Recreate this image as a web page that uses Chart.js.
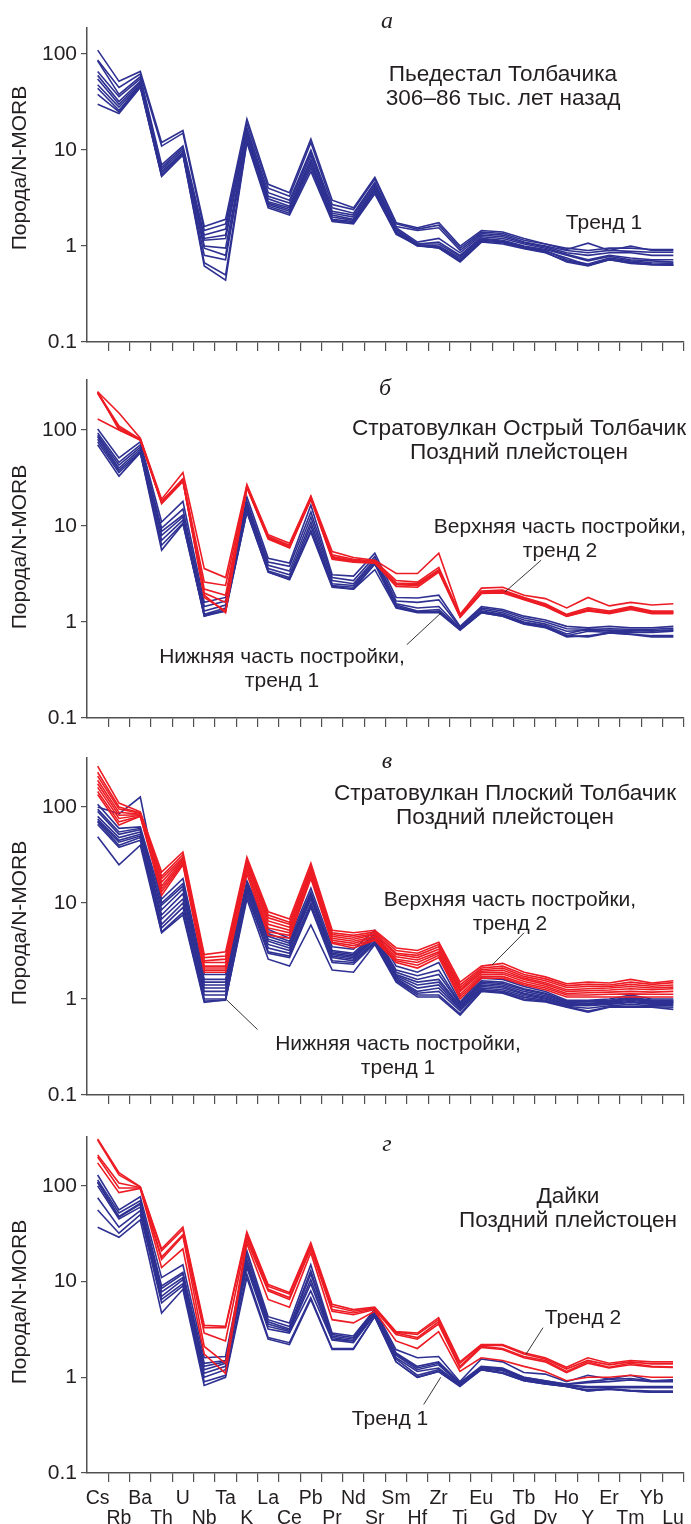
<!DOCTYPE html>
<html lang="ru">
<head>
<meta charset="utf-8">
<title>Толбачик – спайдер-диаграммы</title>
<script src="https://cdn.jsdelivr.net/npm/chart.js@4.4.1/dist/chart.umd.min.js"></script>
<style>
  html, body { margin: 0; padding: 0; background: #fff; }
  #figure { position: relative; width: 691px; height: 1524px; overflow: hidden;
            font-family: "Liberation Sans", Arial, sans-serif; color: #231f20; }
  #figure canvas { position: absolute; left: 0; }
  .note { position: absolute; transform: translate(-50%, -50%); text-align: center;
          white-space: nowrap; font-size: 21px; line-height: 24px; }
  .title { font-size: 22.6px; line-height: 23.5px; }
  .letter { position: absolute; transform: translate(-50%, -50%);
            font-family: "Liberation Serif", "Times New Roman", serif; font-style: italic; font-size: 24px; }
  .ylabel { position: absolute; transform: translate(-50%, -50%) rotate(-90deg);
            font-size: 21px; white-space: nowrap; }
</style>
</head>
<body>
<div id="figure">
  <canvas id="chart-a" width="691" height="362" style="top:0px"></canvas>
  <canvas id="chart-b" width="691" height="378" style="top:362px"></canvas>
  <canvas id="chart-c" width="691" height="378" style="top:740px"></canvas>
  <canvas id="chart-d" width="691" height="406" style="top:1118px"></canvas>

  <div class="letter" style="left:387px; top:20px">а</div>
  <div class="letter" style="left:385px; top:387px">б</div>
  <div class="letter" style="left:387px; top:760px">в</div>
  <div class="letter" style="left:387px; top:1143px">г</div>

  <div class="ylabel" style="left:19px; top:168px">Порода/N-MORB</div>
  <div class="ylabel" style="left:19px; top:547px">Порода/N-MORB</div>
  <div class="ylabel" style="left:19px; top:923px">Порода/N-MORB</div>
  <div class="ylabel" style="left:19px; top:1302px">Порода/N-MORB</div>

  <div class="note title" style="left:503px; top:85px">Пьедестал Толбачика<br>306–86 тыс. лет назад</div>
  <div class="note" style="left:604px; top:222px">Тренд 1</div>

  <div class="note title" style="left:519px; top:439px">Стратовулкан Острый Толбачик<br>Поздний плейстоцен</div>
  <div class="note" style="left:560px; top:538px">Верхняя часть постройки,<br>тренд 2</div>
  <div class="note" style="left:282px; top:668px">Нижняя часть постройки,<br>тренд 1</div>

  <div class="note title" style="left:505px; top:804px">Стратовулкан Плоский Толбачик<br>Поздний плейстоцен</div>
  <div class="note" style="left:510px; top:911px">Верхняя часть постройки,<br>тренд 2</div>
  <div class="note" style="left:398px; top:1055px">Нижняя часть постройки,<br>тренд 1</div>

  <div class="note title" style="left:568px; top:1207px">Дайки<br>Поздний плейстоцен</div>
  <div class="note" style="left:583px; top:1317px">Тренд 2</div>
  <div class="note" style="left:390px; top:1418px">Тренд 1</div>
</div>

<script>
// Elements of the spider diagram (normalised to N-MORB)
const elements = ['Cs', 'Rb', 'Ba', 'Th', 'U', 'Nb', 'Ta', 'K', 'La', 'Ce', 'Pb', 'Pr', 'Nd', 'Sr',
                  'Sm', 'Hf', 'Zr', 'Ti', 'Eu', 'Gd', 'Tb', 'Dy', 'Ho', 'Y', 'Er', 'Tm', 'Yb', 'Lu'];
const yTicks = [0.1, 1, 10, 100];

// а – Пьедестал Толбачика, тренд 1
const pedestalTrend1 = [
    [110, 52, 66, 12, 16, 1.6, 1.9, 21, 4.4, 3.6, 13, 3.0, 2.5, 5.2, 1.75, 1.55, 1.75, 1.0, 1.45, 1.4, 1.2, 1.05, 0.95, 0.9, 0.95, 0.95, 0.92, 0.92],
    [87, 45, 62, 11, 15, 1.45, 1.7, 19, 4.0, 3.3, 12, 2.7, 2.4, 5.0, 1.7, 1.5, 1.65, 0.95, 1.4, 1.35, 1.15, 1.05, 0.92, 1.07, 0.9, 1.0, 0.9, 0.9],
    [85, 38, 58, 7.0, 11, 1.3, 1.5, 17, 3.6, 3.0, 10, 2.5, 2.2, 4.6, 1.6, 1.45, 1.55, 0.9, 1.35, 1.3, 1.1, 1.0, 0.9, 0.85, 0.9, 0.88, 0.86, 0.86],
    [66, 36, 55, 6.6, 10.5, 1.2, 1.3, 16, 3.3, 2.8, 9.5, 2.3, 2.1, 4.4, 1.55, 1.1, 1.2, 0.85, 1.3, 1.25, 1.08, 0.98, 0.85, 0.8, 0.85, 0.85, 0.8, 0.8],
    [60, 32, 52, 6.3, 10, 1.15, 1.2, 15, 3.1, 2.6, 8.8, 2.2, 2.0, 4.2, 1.5, 1.05, 1.1, 0.8, 1.25, 1.2, 1.05, 0.95, 0.82, 0.72, 0.8, 0.75, 0.72, 0.72],
    [55, 30, 50, 6.0, 9.5, 1.0, 0.95, 14, 2.9, 2.5, 8.0, 2.1, 1.9, 4.0, 1.45, 1.05, 1.05, 0.78, 1.2, 1.15, 1.0, 0.92, 0.8, 0.7, 0.78, 0.72, 0.7, 0.68],
    [48, 28, 48, 5.8, 9.2, 0.95, 0.8, 13.5, 2.8, 2.4, 7.5, 2.0, 1.85, 3.9, 1.4, 1.03, 1.0, 0.75, 1.18, 1.12, 0.98, 0.9, 0.72, 0.65, 0.75, 0.7, 0.67, 0.66],
    [44, 26, 47, 5.5, 9.0, 0.8, 0.72, 13, 2.7, 2.3, 7.0, 1.9, 1.8, 3.8, 1.38, 1.0, 0.98, 0.72, 1.15, 1.1, 0.96, 0.88, 0.75, 0.63, 0.73, 0.68, 0.65, 0.64],
    [38, 25, 46, 5.3, 8.9, 0.67, 0.5, 12.5, 2.6, 2.2, 6.5, 1.85, 1.75, 3.6, 1.35, 1.0, 0.96, 0.7, 1.12, 1.08, 0.95, 0.86, 0.68, 0.62, 0.72, 0.67, 0.64, 0.63],
    [30, 24, 45, 5.4, 9.0, 0.62, 0.44, 12, 2.5, 2.1, 6.0, 1.8, 1.7, 3.5, 1.32, 1.02, 0.95, 0.68, 1.1, 1.05, 0.94, 0.85, 0.7, 0.63, 0.72, 0.66, 0.64, 0.63]
];

// б – Острый Толбачик: нижняя (тренд 1) и верхняя (тренд 2) части постройки
const ostryLower = [
    [102, 51, 75, 11, 18, 1.6, 1.8, 20, 4.6, 4.1, 16.5, 3.1, 3.0, 5.2, 1.8, 1.78, 1.9, 0.9, 1.45, 1.35, 1.15, 1.05, 0.9, 0.87, 0.9, 0.87, 0.87, 0.9],
    [93, 46, 70, 9.5, 15, 1.45, 1.65, 18, 4.2, 3.8, 14, 2.9, 2.7, 4.8, 1.65, 1.6, 1.7, 0.88, 1.4, 1.3, 1.1, 1.0, 0.85, 0.84, 0.85, 0.84, 0.84, 0.86],
    [88, 43, 66, 8.8, 13, 1.3, 1.5, 17, 3.9, 3.4, 12.4, 2.7, 2.5, 4.5, 1.55, 1.4, 1.45, 0.86, 1.35, 1.25, 1.05, 0.95, 0.8, 0.82, 0.82, 0.82, 0.8, 0.83],
    [85, 40, 63, 8.0, 12.4, 1.2, 1.4, 16, 3.6, 3.1, 11, 2.5, 2.4, 4.3, 1.5, 1.3, 1.35, 0.85, 1.3, 1.2, 1.0, 0.92, 0.75, 0.85, 0.8, 0.8, 0.82, 0.82],
    [80, 38, 60, 7.1, 11.5, 1.15, 1.35, 15, 3.4, 2.9, 10, 2.4, 2.3, 4.1, 1.45, 1.27, 1.3, 0.84, 1.28, 1.18, 0.98, 0.9, 0.72, 0.8, 0.78, 0.78, 0.78, 0.8],
    [75, 36, 58, 6.3, 10.7, 1.15, 1.3, 14, 3.3, 2.8, 9.0, 2.35, 2.2, 4.0, 1.42, 1.27, 1.27, 0.83, 1.25, 1.15, 0.96, 0.88, 0.7, 0.72, 0.77, 0.75, 0.72, 0.72],
    [70, 33, 58, 5.6, 10.5, 1.2, 1.3, 14, 3.3, 2.75, 8.6, 2.3, 2.2, 3.5, 1.4, 1.25, 1.25, 0.82, 1.25, 1.15, 0.95, 0.87, 0.72, 0.7, 0.77, 0.74, 0.7, 0.7]
];
const ostryUpper = [
    [250, 150, 82, 19, 36, 3.6, 2.9, 27, 8.1, 6.6, 20.5, 5.4, 4.7, 4.4, 3.2, 3.2, 5.2, 1.2, 2.25, 2.3, 1.9, 1.75, 1.4, 1.8, 1.47, 1.6, 1.5, 1.55],
    [245, 110, 80, 18, 31, 2.6, 2.4, 26, 7.8, 6.3, 20, 5.0, 4.5, 4.3, 2.7, 2.6, 3.7, 1.18, 2.1, 2.15, 1.8, 1.55, 1.2, 1.4, 1.3, 1.45, 1.3, 1.3],
    [240, 105, 79, 17.5, 30, 2.2, 1.9, 25.5, 7.6, 6.1, 19.5, 4.8, 4.4, 4.2, 2.55, 2.5, 3.5, 1.15, 2.05, 2.1, 1.75, 1.5, 1.18, 1.35, 1.27, 1.42, 1.28, 1.27],
    [130, 100, 80, 17, 29, 2.0, 1.6, 25, 7.4, 6.0, 19, 4.6, 4.3, 4.15, 2.45, 2.4, 3.4, 1.13, 2.0, 2.05, 1.72, 1.48, 1.16, 1.33, 1.25, 1.38, 1.25, 1.25],
    [250, 100, 78, 17.5, 29.5, 1.8, 1.3, 25, 7.3, 5.9, 19, 4.5, 4.2, 4.1, 2.35, 2.3, 3.3, 1.12, 1.98, 2.0, 1.7, 1.45, 1.14, 1.3, 1.22, 1.35, 1.22, 1.22],
    [245, 105, 80, 18, 30, 1.9, 1.25, 26, 7.5, 6.0, 20, 4.7, 4.3, 4.2, 2.5, 2.45, 3.45, 1.16, 2.02, 2.08, 1.73, 1.47, 1.15, 1.32, 1.24, 1.4, 1.26, 1.26]
];

// в – Плоский Толбачик
const ploskyLower = [
    [107, 60, 62, 11, 18, 1.8, 1.8, 17, 5.3, 4.3, 14.3, 3.5, 3.3, 5.2, 2.2, 1.9, 2.4, 0.93, 1.65, 1.6, 1.35, 1.2, 0.97, 0.97, 1.0, 1.1, 1.0, 1.0],
    [100, 85, 127, 10, 16, 1.6, 1.6, 16, 4.8, 4.0, 13, 3.2, 3.0, 4.8, 2.0, 1.75, 2.0, 0.9, 1.55, 1.5, 1.28, 1.15, 0.95, 0.95, 0.97, 1.05, 0.97, 0.97],
    [95, 55, 60, 9.5, 15, 1.5, 1.5, 16, 4.5, 3.8, 12.5, 3.1, 2.9, 4.6, 1.9, 1.6, 1.8, 0.88, 1.5, 1.45, 1.25, 1.12, 0.93, 0.93, 0.95, 1.02, 0.95, 0.95],
    [90, 52, 58, 8.5, 14, 1.4, 1.4, 15, 4.2, 3.6, 12, 3.0, 2.8, 4.4, 1.8, 1.5, 1.6, 0.85, 1.45, 1.4, 1.2, 1.08, 0.92, 0.9, 0.93, 1.0, 0.93, 0.93],
    [80, 48, 55, 7.5, 12.5, 1.3, 1.3, 15, 4.0, 3.4, 11.5, 2.9, 2.7, 4.3, 1.75, 1.4, 1.5, 0.83, 1.4, 1.35, 1.15, 1.05, 0.9, 0.88, 0.92, 0.97, 0.92, 0.92],
    [75, 45, 52, 6.8, 11, 1.2, 1.2, 14, 3.7, 3.2, 11, 2.8, 2.6, 4.2, 1.7, 1.3, 1.4, 0.8, 1.35, 1.3, 1.12, 1.02, 0.88, 0.87, 0.9, 0.94, 0.9, 0.9],
    [72, 43, 50, 6.0, 10, 1.1, 1.1, 14, 3.4, 3.0, 10, 2.7, 2.5, 4.0, 1.65, 1.2, 1.3, 0.78, 1.3, 1.25, 1.08, 1.0, 0.86, 0.85, 0.88, 0.92, 0.88, 0.88],
    [70, 40, 48, 5.5, 9.0, 1.0, 1.0, 13, 3.1, 2.8, 9.5, 2.5, 2.4, 3.9, 1.6, 1.15, 1.2, 0.75, 1.25, 1.2, 1.04, 0.97, 0.84, 0.8, 0.85, 0.88, 0.85, 0.85],
    [66, 38, 45, 5.0, 8.0, 0.95, 0.97, 12, 3.0, 2.7, 9.0, 2.4, 2.3, 3.8, 1.55, 1.1, 1.1, 0.7, 1.22, 1.17, 1.0, 0.95, 0.83, 0.75, 0.83, 0.84, 0.83, 0.82],
    [49, 25, 40, 4.9, 7.5, 0.92, 0.98, 11, 2.6, 2.2, 5.9, 2.0, 1.9, 3.7, 1.5, 1.05, 1.05, 0.68, 1.2, 1.15, 0.97, 0.93, 0.82, 0.73, 0.82, 0.82, 0.82, 0.78]
];
const ploskyUpper = [
    [267, 110, 89, 21, 34, 2.9, 3.1, 30, 8.1, 6.8, 26, 5.2, 4.9, 5.2, 3.4, 3.2, 3.9, 1.5, 2.2, 2.35, 1.9, 1.7, 1.44, 1.5, 1.47, 1.6, 1.47, 1.55],
    [230, 100, 87, 19, 32, 2.7, 2.8, 28, 7.5, 6.3, 24, 4.9, 4.6, 5.0, 3.2, 3.0, 3.7, 1.4, 2.1, 2.2, 1.8, 1.62, 1.38, 1.42, 1.4, 1.5, 1.42, 1.48],
    [210, 95, 86, 18, 30, 2.5, 2.6, 27, 7.0, 6.0, 23, 4.7, 4.4, 4.8, 3.0, 2.85, 3.5, 1.32, 2.02, 2.1, 1.72, 1.55, 1.32, 1.35, 1.35, 1.42, 1.36, 1.4],
    [190, 88, 84, 16.5, 29, 2.4, 2.4, 26, 6.5, 5.6, 22, 4.5, 4.2, 4.7, 2.9, 2.7, 3.3, 1.25, 1.95, 2.0, 1.65, 1.48, 1.25, 1.28, 1.3, 1.35, 1.3, 1.33],
    [175, 82, 83, 15, 28, 2.2, 2.2, 25, 6.0, 5.2, 21, 4.3, 4.0, 4.5, 2.75, 2.55, 3.1, 1.2, 1.88, 1.9, 1.6, 1.42, 1.2, 1.22, 1.24, 1.28, 1.25, 1.28],
    [160, 76, 82, 14, 27, 2.1, 2.1, 23, 5.5, 4.9, 20, 4.1, 3.8, 4.4, 2.6, 2.4, 3.0, 1.12, 1.8, 1.82, 1.52, 1.36, 1.14, 1.16, 1.18, 1.2, 1.18, 1.2],
    [145, 70, 80, 13, 26, 2.0, 2.0, 22, 5.0, 4.6, 19, 3.9, 3.6, 4.2, 2.5, 2.25, 2.85, 1.06, 1.72, 1.72, 1.45, 1.3, 1.1, 1.1, 1.12, 1.13, 1.12, 1.12],
    [135, 65, 80, 12, 25, 1.9, 1.9, 20, 4.6, 4.3, 18, 3.8, 3.4, 4.1, 2.4, 2.1, 2.7, 1.0, 1.65, 1.65, 1.4, 1.25, 1.05, 1.05, 1.05, 1.05, 1.05, 1.05]
];

// г – Дайки
const dykesTrend1 = [
    [130, 56, 77, 11, 15, 1.6, 1.65, 21, 4.3, 3.7, 15, 2.9, 2.7, 5.1, 1.95, 1.6, 1.65, 0.9, 1.55, 1.45, 1.12, 1.08, 0.9, 1.05, 0.96, 1.05, 0.92, 0.94],
    [115, 52, 70, 9.0, 12.5, 1.4, 1.5, 19, 4.0, 3.4, 13, 2.8, 2.6, 5.0, 1.8, 1.3, 1.45, 0.88, 1.3, 1.25, 1.0, 0.92, 0.85, 0.9, 0.95, 0.97, 0.92, 0.92],
    [110, 48, 66, 8.5, 12, 1.3, 1.45, 17, 3.8, 3.2, 12, 2.7, 2.5, 4.9, 1.75, 1.25, 1.4, 0.87, 1.28, 1.22, 1.0, 0.92, 0.84, 0.88, 0.9, 0.94, 0.9, 0.9],
    [108, 47, 64, 7.8, 11, 1.2, 1.4, 16, 3.6, 3.1, 10.5, 2.6, 2.4, 4.7, 1.7, 1.2, 1.35, 0.86, 1.25, 1.2, 0.98, 0.9, 0.83, 0.8, 0.8, 0.8, 0.8, 0.8],
    [100, 45, 60, 7.0, 10.5, 1.1, 1.3, 15, 3.4, 3.0, 9.5, 2.5, 2.4, 4.6, 1.6, 1.15, 1.25, 0.85, 1.22, 1.17, 0.96, 0.88, 0.82, 0.78, 0.78, 0.78, 0.78, 0.78],
    [75, 37, 55, 6.5, 9.5, 1.0, 1.2, 14, 3.2, 2.9, 8.0, 2.45, 2.3, 4.5, 1.55, 1.05, 1.2, 0.83, 1.2, 1.12, 0.94, 0.86, 0.8, 0.74, 0.76, 0.73, 0.72, 0.72],
    [56, 32, 50, 6.0, 9.0, 0.9, 1.05, 12, 2.6, 2.3, 6.8, 2.0, 2.0, 4.3, 1.45, 1.0, 1.15, 0.82, 1.2, 1.1, 0.92, 0.85, 0.8, 0.72, 0.75, 0.72, 0.7, 0.7],
    [37, 29, 44, 4.7, 8.3, 0.82, 1.0, 11, 2.5, 2.2, 6.5, 1.95, 1.95, 4.3, 1.45, 1.0, 1.15, 0.8, 1.2, 1.1, 0.92, 0.85, 0.8, 0.72, 0.75, 0.72, 0.7, 0.7]
];
const dykesTrend2 = [
    [309, 137, 98, 22, 37, 3.5, 3.4, 33, 9.3, 7.7, 25.5, 5.8, 5.1, 5.4, 3.0, 2.9, 4.2, 1.45, 2.2, 2.2, 1.8, 1.6, 1.27, 1.6, 1.4, 1.5, 1.45, 1.45],
    [300, 130, 97, 21, 35, 3.3, 3.3, 31, 8.9, 7.4, 24, 5.5, 4.9, 5.3, 2.95, 2.8, 4.0, 1.4, 2.15, 2.15, 1.75, 1.55, 1.22, 1.5, 1.35, 1.45, 1.38, 1.38],
    [210, 107, 96, 18, 31, 2.9, 2.4, 29, 8.3, 6.8, 23, 5.1, 4.7, 5.2, 2.9, 2.6, 3.8, 1.3, 2.1, 2.0, 1.65, 1.5, 1.15, 1.45, 1.27, 1.4, 1.3, 1.28],
    [200, 95, 95, 17, 30, 2.1, 1.4, 27, 8.0, 6.5, 22, 4.9, 4.5, 5.1, 2.8, 2.5, 3.6, 1.25, 2.05, 1.95, 1.6, 1.45, 1.12, 1.4, 1.25, 1.35, 1.28, 1.27],
    [174, 85, 94, 14, 22, 1.75, 1.1, 25, 6.5, 5.4, 20, 4.0, 3.7, 4.9, 2.4, 2.0, 3.0, 1.15, 1.6, 1.5, 1.3, 1.15, 0.92, 1.0, 1.0, 1.05, 1.0, 1.0]
];

// Leader lines from the notes to the trends: [element index, value, element index, value]
const ostryLeaders = [[20.8, 4.4, 19.1, 2.05], [14.5, 0.58, 16.1, 1.24]];
const ploskyLeaders = [[20.0, 4.9, 18.5, 2.26], [6.05, 0.98, 7.5, 0.48]];
const dykesLeaders = [[20.9, 3.3, 20.1, 1.74], [15.3, 0.52, 16.1, 1.0]];

const BLUE = '#2e3192';
const RED = '#ed1c24';
const TEXT = '#231f20';
const AXIS = '#505050';
const FONT = '"Liberation Sans", Arial, sans-serif';

const leaderPlugin = {
    id: 'leaders',
    afterDatasetsDraw(chart, args, opts) {
        const { ctx, scales: { x, y } } = chart;
        ctx.save();
        ctx.strokeStyle = TEXT;
        ctx.lineWidth = 0.9;
        (opts.lines || []).forEach(([i1, v1, i2, v2]) => {
            ctx.beginPath();
            ctx.moveTo(x.getPixelForValue(i1), y.getPixelForValue(v1));
            ctx.lineTo(x.getPixelForValue(i2), y.getPixelForValue(v2));
            ctx.stroke();
        });
        ctx.restore();
    }
};

function lineSet(values, color) {
    return {
        data: values,
        borderColor: color,
        borderWidth: 1.6,
        pointRadius: 0,
        tension: 0,
        fill: false
    };
}

function buildChart(p) {
    // red first so it is drawn on top of the blue lines
    const datasets = [
        ...p.red.map(row => lineSet(row, RED)),
        ...p.blue.map(row => lineSet(row, BLUE))
    ];

    return new Chart(document.getElementById(p.id).getContext('2d'), {
        type: 'line',
        data: { labels: elements, datasets },
        options: {
            responsive: false,
            animation: false,
            events: [],
            layout: { padding: { top: p.padTop, right: 7, left: 0, bottom: 0 } },
            plugins: {
                legend: { display: false },
                tooltip: { enabled: false },
                leaders: { lines: p.leaders }
            },
            scales: {
                x: {
                    type: 'category',
                    offset: true,
                    grid: {
                        offset: true,
                        drawOnChartArea: false,
                        drawTicks: true,
                        tickLength: 9,
                        lineWidth: 1.2,
                        color: c => (c.index === 0 ? 'rgba(0,0,0,0)' : AXIS)
                    },
                    border: { display: true, color: AXIS, width: 1.5 },
                    ticks: {
                        display: p.labels,
                        autoSkip: false,
                        maxRotation: 0,
                        minRotation: 0,
                        padding: 7,
                        color: TEXT,
                        font: { family: FONT, size: 19.5, lineHeight: 1 },
                        callback: (v, i) => (i % 2 === 0 ? [elements[i], ''] : ['', elements[i]])
                    },
                    afterFit: s => { s.height = p.axisH; }
                },
                y: {
                    type: 'logarithmic',
                    min: 0.1,
                    max: p.max,
                    grid: { display: true, drawOnChartArea: false, drawTicks: true, tickLength: 6, lineWidth: 1.2, color: AXIS },
                    border: { display: true, color: AXIS, width: 1.5 },
                    afterBuildTicks: s => { s.ticks = yTicks.map(v => ({ value: v })); },
                    ticks: {
                        padding: 4,
                        color: TEXT,
                        font: { family: FONT, size: 21 },
                        callback: v => String(v)
                    },
                    afterFit: s => { s.width = 87; }
                }
            }
        },
        plugins: [leaderPlugin]
    });
}

const panels = [
    { id: 'chart-a', padTop: 28, axisH: 20, max: 187, blue: pedestalTrend1, red: [], leaders: [], labels: false },
    { id: 'chart-b', padTop: 18, axisH: 22, max: 331, blue: ostryLower, red: ostryUpper, leaders: ostryLeaders, labels: false },
    { id: 'chart-c', padTop: 18, axisH: 23, max: 324, blue: ploskyLower, red: ploskyUpper, leaders: ploskyLeaders, labels: false },
    { id: 'chart-d', padTop: 19, axisH: 51, max: 324, blue: dykesTrend1, red: dykesTrend2, leaders: dykesLeaders, labels: true }
];

panels.forEach(buildChart);
</script>
</body>
</html>
